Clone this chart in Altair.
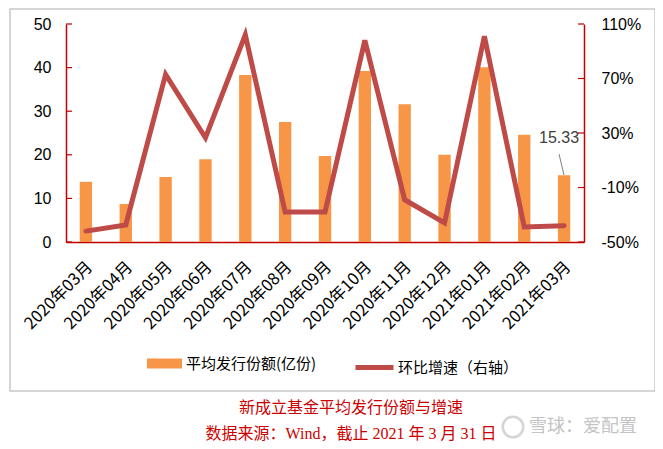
import altair as alt
import pandas as pd

months = ["2020年03月", "2020年04月", "2020年05月", "2020年06月", "2020年07月",
          "2020年08月", "2020年09月", "2020年10月", "2020年11月", "2020年12月",
          "2021年01月", "2021年02月", "2021年03月"]
avg_issue = [13.8, 8.7, 14.9, 19.0, 38.3, 27.5, 19.7, 39.2, 31.6, 20.0, 40.1, 24.6, 15.33]
mom_growth = [-42, -37.5, 73, 26.5, 102, -28, -28, 98, -19, -36, 101, -39, -38]
left_ticks = [0, 10, 20, 30, 40, 50]
right_ticks = [-50, -10, 30, 70, 110]
bar_name = "平均发行份额(亿份)"
line_name = "环比增速（右轴）"
caption_title = "新成立基金平均发行份额与增速"
caption_source = "数据来源：Wind，截止 2021 年 3 月 31 日"
watermark = "雪球：爱配置"

RED_AXIS = "#C00000"
ORANGE = "#F79646"
LINE_RED = "#BE4B48"
CJK = "Noto Sans CJK SC"
NUM = "Liberation Sans"
SERIF = "Liberation Serif, Noto Sans CJK SC"

df = pd.DataFrame({"month": months, "value": avg_issue, "growth": mom_growth,
                   "s1": bar_name, "s2": line_name})

x_enc = alt.X("month:N", sort=months,
              scale=alt.Scale(type="band", paddingInner=0.69, paddingOuter=0.345),
              axis=alt.Axis(title=None, labelAngle=-45, labelAlign="right", labelBaseline="middle",
                            labelFont=CJK, labelFontSize=16.5, labelColor="black",
                            labelPadding=22, labelOffset=4, ticks=False,
                            domainColor=RED_AXIS, domainWidth=1.5, grid=False))

left_scale = alt.Scale(domain=[0, 50], nice=False, zero=True)
right_scale = alt.Scale(domain=[-50, 110], nice=False, zero=False)

base = alt.Chart(df)

bars = base.mark_bar().encode(
    x=x_enc,
    y=alt.Y("value:Q", scale=left_scale,
            axis=alt.Axis(title=None, orient="left", values=left_ticks, grid=False, ticks=False,
                          labelFont=NUM, labelFontSize=16, labelColor="black", labelPadding=15,
                          domainColor=RED_AXIS, domainWidth=1.5)),
    color=alt.Color("s1:N", scale=alt.Scale(domain=[bar_name], range=[ORANGE]),
                    legend=alt.Legend(title=None, orient="none", legendX=81, legendY=322,
                                      symbolType="M-1,-0.2857h2v0.5714h-2Z", symbolSize=1225,
                                      symbolStrokeWidth=0, labelOffset=4, padding=0,
                                      labelFont=CJK, labelFontSize=15, labelColor="black")),
)

label = base.transform_filter(alt.datum.month == months[-1]).mark_text(
    font=NUM, fontSize=16, color="#404040", dx=-5, dy=-37
).encode(x=x_enc, y=alt.Y("value:Q", scale=left_scale, axis=None),
         text=alt.Text("value:Q", format=".2f"))

lticks = alt.Chart(pd.DataFrame({"t": left_ticks})).mark_rule(color=RED_AXIS, strokeWidth=1.2).encode(
    y=alt.Y("t:Q", scale=left_scale, axis=None), x=alt.value(0), x2=alt.value(6))

line = base.mark_line(strokeWidth=5, strokeCap="round", strokeJoin="miter").encode(
    x=x_enc,
    y=alt.Y("growth:Q", scale=right_scale,
            axis=alt.Axis(title=None, orient="right", values=right_ticks, grid=False, ticks=False,
                          labelExpr="datum.value + '%'",
                          labelFont=NUM, labelFontSize=16, labelColor="black", labelPadding=17,
                          domainColor=RED_AXIS, domainWidth=1.5)),
    color=alt.Color("s2:N", scale=alt.Scale(domain=[line_name], range=[LINE_RED]),
                    legend=alt.Legend(title=None, orient="none", legendX=287, legendY=322,
                                      symbolType="stroke", symbolSize=1444, symbolStrokeWidth=5,
                                      labelOffset=2, padding=0,
                                      labelFont=CJK, labelFontSize=15, labelColor="black")),
)

rticks = alt.Chart(pd.DataFrame({"t": right_ticks})).mark_rule(color=RED_AXIS, strokeWidth=1.2).encode(
    y=alt.Y("t:Q", scale=right_scale, axis=None), x=alt.value(512), x2=alt.value(518))

one = pd.DataFrame({"k": [0]})
leader = alt.Chart(one).mark_rule(color="#808080", strokeWidth=1).encode(
    x=alt.value(493), x2=alt.value(498), y=alt.value(130), y2=alt.value(151))

border = alt.Chart(one).mark_rect(filled=False, color="#C8C8C8", strokeWidth=1.5).encode(
    x=alt.value(-56), x2=alt.value(589), y=alt.value(-15), y2=alt.value(367))

cap1 = alt.Chart(pd.DataFrame({"c": [caption_title]})).mark_text(
    font=SERIF, fontSize=16, color="#CC0000").encode(
    x=alt.value(285), y=alt.value(384), text="c:N")
cap2 = alt.Chart(pd.DataFrame({"c": [caption_source]})).mark_text(
    font=SERIF, fontSize=16, color="#CC0000").encode(
    x=alt.value(285), y=alt.value(410), text="c:N")
wm = alt.Chart(pd.DataFrame({"c": [watermark]})).mark_text(
    font=CJK, fontSize=18, color="#C4C4C4", align="left").encode(
    x=alt.value(463), y=alt.value(403), text="c:N")
logo = alt.Chart(one).mark_point(shape="circle", size=420, filled=False, color="#C4C4C4",
                                 strokeWidth=2.5).encode(x=alt.value(447), y=alt.value(403))

chart = alt.layer(bars, line, lticks, rticks, label, leader, border, cap1, cap2, wm, logo).resolve_scale(
    y="independent", color="independent"
).properties(
    width=518, height=218,
    autosize=alt.AutoSizeParams(type="none"),
    padding={"left": 58, "top": 16, "right": 71, "bottom": 199},
).configure_view(stroke=None)

chart.save("out.html", embed_options={"renderer": "svg", "actions": False})
